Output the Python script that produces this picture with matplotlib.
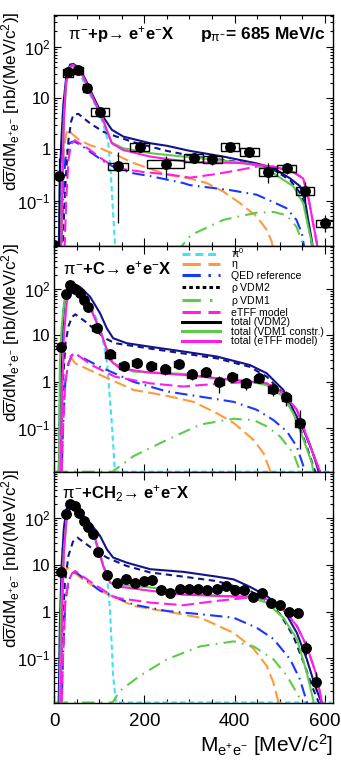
import matplotlib
matplotlib.use("Agg")
import matplotlib.pyplot as plt
from matplotlib.lines import Line2D
from matplotlib.patches import Rectangle
from matplotlib.ticker import FixedLocator, FixedFormatter, LogLocator, NullFormatter, MultipleLocator
import numpy as np

plt.rcParams["font.family"] = ["Liberation Sans", "DejaVu Sans"]
plt.rcParams["mathtext.fontset"] = "custom"
plt.rcParams["mathtext.rm"] = "Liberation Sans"
plt.rcParams["mathtext.it"] = "Liberation Sans"
plt.rcParams["mathtext.bf"] = "Liberation Sans:bold"

# ── Panel 1: pi- + p ─────────────────────────────────────────────────────────
P1_DATA_X = [1, 12, 32, 54, 72, 102, 142, 190, 247, 309, 351, 390, 433, 475, 515, 556, 600]
P1_DATA_Y = [0.0135, 0.305, 31.6, 35, 15.9, 5.4, 0.47, 1.12, 0.52, 0.69, 0.645, 1.12, 0.90, 0.366, 0.43, 0.156, 0.036]
P1_STAT_LO = [0.0135, 0.005, 29, 32, 14.5, 4.9, 0.036, 0.92, 0.27, 0.55, 0.5, 0.95, 0.74, 0.22, 0.33, 0.10, 0.024]
P1_STAT_HI = [0.0135, 0.67, 34, 38, 17.5, 6.0, 0.9, 1.35, 0.75, 0.85, 0.8, 1.3, 1.08, 0.55, 0.53, 0.23, 0.053]
P1_SYS_DX = [0, 0, 11, 10, 7, 20, 22, 21, 40, 21, 21, 20, 21, 20, 20, 21, 20]

P1_PI0_X = [10, 14, 20, 28, 39, 55, 75, 100, 112, 120, 126, 131, 137]
P1_PI0_Y = [0.005, 0.32, 6.3, 28, 42, 32, 14, 5.2, 2.5, 1.4, 0.32, 0.056, 0.008]
P1_ETA_X = [13, 17, 22, 27, 31, 40, 57, 80, 102, 140, 176, 250, 301, 338, 375, 412, 449, 471, 482, 492]
P1_ETA_Y = [0.005, 0.1, 1.0, 2.0, 2.45, 2.0, 1.5, 1.2, 1.05, 0.76, 0.54, 0.32, 0.27, 0.22, 0.15, 0.089, 0.049, 0.027, 0.016, 0.006]
P1_QED_X = [15, 20, 25, 32, 40, 46, 60, 80, 109, 139, 176, 213, 286, 301, 390, 449, 478, 515, 537, 549, 556]
P1_QED_Y = [0.005, 0.1, 0.63, 1.26, 1.4, 1.4, 1.2, 0.89, 0.59, 0.42, 0.34, 0.3, 0.22, 0.2, 0.16, 0.13, 0.1, 0.071, 0.042, 0.023, 0.01]
P1_VDM2_X = [20, 24, 28, 32, 38, 43, 54, 80, 109, 139, 183, 250, 316, 375, 449, 486, 523, 545, 556, 563, 571, 578]
P1_VDM2_Y = [0.016, 0.13, 0.5, 1.5, 3.5, 4.7, 4.9, 3.2, 2.2, 1.76, 1.32, 0.93, 0.71, 0.62, 0.5, 0.4, 0.25, 0.14, 0.079, 0.035, 0.014, 0.005]
P1_VDM1_X = [272, 301, 316, 375, 449, 486, 515, 537, 549, 556]
P1_VDM1_Y = [0.01, 0.02, 0.024, 0.042, 0.058, 0.06, 0.052, 0.031, 0.016, 0.008]
P1_ETFF_X = [22, 27, 32, 38, 46, 60, 80, 109, 139, 198, 257, 301, 350, 400, 449, 486, 530, 552, 563, 574, 582, 590]
P1_ETFF_Y = [0.005, 0.1, 0.63, 1.26, 1.5, 1.26, 0.97, 0.62, 0.43, 0.36, 0.32, 0.28, 0.32, 0.38, 0.46, 0.46, 0.36, 0.27, 0.12, 0.036, 0.015, 0.005]
P1_TOT_VDM2_X = [10, 13, 17, 21, 28, 36, 43, 57, 72, 87, 109, 128, 154, 176, 213, 250, 301, 375, 449, 486, 523, 545, 556, 563, 571, 578]
P1_TOT_VDM2_Y = [0.005, 0.32, 2.0, 7.9, 30, 45, 46, 38, 21, 10.7, 4.3, 2.4, 1.76, 1.58, 1.31, 1.17, 0.93, 0.72, 0.53, 0.43, 0.27, 0.19, 0.10, 0.042, 0.017, 0.006]
P1_TOT_VDM1_X = [15, 19, 22, 27, 35, 42, 57, 72, 87, 100, 109, 120, 128, 153, 213, 286, 375, 449, 486, 530, 552, 563, 571, 580]
P1_TOT_VDM1_Y = [0.005, 0.32, 4.0, 20, 40, 44, 35, 19, 9.5, 5.6, 3.7, 2.0, 1.35, 1.05, 0.84, 0.72, 0.6, 0.5, 0.34, 0.19, 0.089, 0.031, 0.015, 0.005]
P1_TOT_ETFF_X = [15, 19, 22, 27, 35, 42, 57, 72, 87, 100, 109, 120, 128, 153, 213, 301, 412, 486, 530, 552, 563, 574, 582, 590]
P1_TOT_ETFF_Y = [0.005, 0.32, 4.0, 20, 40, 44, 35, 19, 9.5, 5.6, 3.7, 2.0, 1.31, 0.97, 0.72, 0.56, 0.54, 0.46, 0.36, 0.27, 0.12, 0.036, 0.015, 0.005]

# ── Panel 2: pi- + C ─────────────────────────────────────────────────────────
P2_DATA_X = [16, 27, 35, 47, 58, 67, 76, 95, 124, 155, 183, 215, 246, 276, 305, 336, 366, 395, 425, 453, 484, 514, 544]
P2_DATA_Y = [5.7, 77, 122, 98, 84, 58, 40, 14.8, 3.9, 2.2, 2.6, 2.2, 1.86, 2.4, 1.45, 1.6, 1.0, 1.26, 0.93, 1.19, 0.69, 0.46, 0.128]
P2_STAT_LO = [5.0, 72, 115, 92, 79, 54, 37, 13.8, 3.1, 1.7, 2.2, 1.8, 1.4, 2.0, 1.1, 1.3, 0.57, 1.0, 0.66, 0.95, 0.5, 0.3, 0.035]
P2_STAT_HI = [6.4, 82, 129, 104, 89, 62, 43, 15.8, 4.8, 2.7, 3.0, 2.6, 2.4, 2.8, 1.8, 1.9, 1.35, 1.5, 1.15, 1.45, 0.9, 0.62, 0.25]
P2_SYS_DX = [0, 0, 0, 0, 0, 0, 0, 10, 11, 10, 10, 10, 10, 10, 10, 10, 10, 10, 10, 10, 10, 10, 10]

P2_PI0_X = [10, 13, 17, 22, 28, 35, 46, 58, 80, 102, 117, 128, 135, 615]
P2_PI0_Y = [0.005, 0.5, 10, 50, 100, 120, 112, 89, 45, 15.5, 2.95, 0.13, 0.0116, 0.0116]
P2_ETA_X = [12, 15, 19, 24, 30, 47, 102, 176, 250, 309, 361, 398, 442, 464, 479, 488]
P2_ETA_Y = [0.005, 0.32, 2.0, 4.0, 4.3, 2.5, 1.41, 0.67, 0.5, 0.37, 0.21, 0.13, 0.056, 0.029, 0.012, 0.005]
P2_QED_X = [16, 20, 25, 32, 40, 47, 102, 176, 250, 324, 398, 449, 486, 516, 538, 556, 565]
P2_QED_Y = [0.005, 0.1, 1.0, 2.5, 3.8, 4.0, 2.1, 1.0, 0.62, 0.48, 0.37, 0.25, 0.15, 0.085, 0.04, 0.012, 0.005]
P2_VDM2_X = [12, 16, 20, 25, 32, 40, 47, 69, 91, 113, 135, 213, 361, 434, 471, 508, 538, 560, 578, 588]
P2_VDM2_Y = [0.005, 0.1, 1.0, 6.3, 15.8, 25, 28.5, 20, 13.2, 8.7, 6.8, 5.2, 3.2, 2.1, 1.29, 0.56, 0.15, 0.04, 0.012, 0.005]
P2_VDM1_X = [3, 130, 134, 176, 250, 324, 398, 442, 471, 501, 530, 545, 552]
P2_VDM1_Y = [0.0116, 0.0116, 0.0125, 0.025, 0.056, 0.12, 0.16, 0.15, 0.11, 0.066, 0.029, 0.012, 0.005]
P2_ETFF_X = [16, 20, 25, 32, 40, 47, 83, 135, 213, 287, 324, 398, 434, 471, 508, 538, 560, 578, 589, 598]
P2_ETFF_Y = [0.005, 0.1, 1.0, 2.5, 3.8, 4.1, 2.3, 1.29, 0.93, 0.79, 0.85, 0.95, 1.0, 0.93, 0.56, 0.25, 0.066, 0.022, 0.012, 0.005]
P2_TOT_VDM2_X = [10, 13, 17, 22, 28, 35, 46, 58, 80, 102, 117, 131, 161, 213, 287, 361, 434, 471, 508, 530, 553, 571, 586, 595]
P2_TOT_VDM2_Y = [0.005, 0.32, 6.3, 40, 89, 132, 126, 110, 68, 30, 14.2, 8.7, 6.8, 5.7, 4.5, 3.5, 2.3, 1.53, 0.67, 0.25, 0.091, 0.034, 0.012, 0.005]
P2_TOT_VDM1_X = [11, 13, 17, 22, 28, 35, 46, 58, 80, 102, 117, 131, 176, 287, 361, 434, 471, 508, 530, 553, 571, 580]
P2_TOT_VDM1_Y = [0.005, 2.5, 15, 45, 80, 97, 100, 79, 40, 13.1, 4.9, 2.5, 1.66, 1.48, 1.19, 1.01, 0.85, 0.48, 0.21, 0.056, 0.018, 0.006]
P2_TOT_ETFF_X = [14, 18, 22, 28, 35, 46, 58, 80, 102, 117, 124, 146, 213, 287, 361, 434, 471, 508, 538, 560, 578, 589, 598]
P2_TOT_ETFF_Y = [0.005, 0.5, 10, 50, 95, 100, 79, 40, 13.1, 4.9, 2.95, 1.95, 1.58, 1.41, 1.19, 1.01, 0.93, 0.56, 0.25, 0.066, 0.022, 0.012, 0.005]

# ── Panel 3: pi- + CH2 ───────────────────────────────────────────────────────
P3_DATA_X = [16, 26, 35, 47, 56, 67, 76, 87, 98, 118, 139, 159, 179, 199, 218, 238, 258, 279, 299,
             319, 339, 360, 380, 400, 420, 440, 460, 480, 500, 520, 541, 559, 580]
P3_DATA_Y = [7.1, 122, 200, 183, 128, 88, 66, 45, 19, 6.0, 4.2, 5.1, 4.2, 4.5, 4.8, 2.9, 2.55, 3.0, 3.1,
             3.0, 2.9, 3.0, 3.55, 2.9, 2.9, 2.1, 2.5, 1.56, 1.37, 1.0, 0.92, 0.17, 0.031]
P3_STAT_LO = [6.7, 116, 190, 174, 122, 84, 63, 43, 18, 5.6, 3.9, 4.8, 3.9, 4.2, 4.5, 2.7, 2.35, 2.8, 2.9,
              2.8, 2.7, 2.8, 3.3, 2.7, 2.7, 1.95, 2.3, 1.42, 1.24, 0.88, 0.8, 0.12, 0.021]
P3_STAT_HI = [7.5, 128, 210, 192, 134, 92, 69, 47, 20, 6.4, 4.5, 5.4, 4.5, 4.8, 5.1, 3.1, 2.75, 3.2, 3.3,
              3.2, 3.1, 3.2, 3.8, 3.1, 3.1, 2.25, 2.7, 1.7, 1.5, 1.12, 1.05, 0.24, 0.05]

P3_PI0_X = [10, 13, 17, 22, 28, 35, 46, 60, 80, 102, 117, 124, 131, 137, 615]
P3_PI0_Y = [0.005, 0.5, 10, 63, 158, 200, 178, 126, 60, 17, 6.3, 1.12, 0.042, 0.0113, 0.0113]
P3_ETA_X = [12, 15, 19, 24, 30, 58, 102, 176, 250, 324, 398, 442, 471, 486, 497, 502]
P3_ETA_Y = [0.005, 0.25, 2.5, 7.1, 8.8, 5.4, 2.8, 1.32, 1.0, 0.74, 0.35, 0.16, 0.069, 0.03, 0.0115, 0.005]
P3_QED_X = [16, 20, 25, 32, 40, 47, 102, 176, 250, 324, 398, 449, 486, 523, 545, 560, 566]
P3_QED_Y = [0.005, 0.1, 1.6, 4.5, 6.6, 7.1, 2.8, 1.41, 1.03, 0.88, 0.74, 0.45, 0.26, 0.095, 0.035, 0.0115, 0.005]
P3_VDM2_X = [11, 14, 18, 24, 32, 42, 52, 87, 117, 161, 213, 287, 361, 434, 471, 501, 530, 553, 571, 586, 595]
P3_VDM2_Y = [0.005, 0.032, 0.32, 4.0, 15.8, 31.6, 38.5, 21.7, 14.4, 9.5, 6.9, 5.6, 4.5, 2.8, 1.69, 0.88, 0.3, 0.081, 0.026, 0.0115, 0.005]
P3_VDM1_X = [3, 126, 130, 146, 190, 250, 324, 398, 442, 486, 516, 538, 549, 555]
P3_VDM1_Y = [0.0113, 0.0113, 0.0115, 0.02, 0.042, 0.095, 0.18, 0.23, 0.18, 0.095, 0.042, 0.018, 0.0115, 0.005]
P3_ETFF_X = [16, 20, 25, 32, 40, 47, 83, 135, 213, 287, 361, 412, 434, 471, 508, 538, 560, 582, 593, 600]
P3_ETFF_Y = [0.005, 0.1, 1.6, 4.5, 6.6, 7.4, 4.2, 2.0, 1.56, 1.37, 1.7, 1.9, 2.0, 1.84, 1.12, 0.49, 0.18, 0.042, 0.0115, 0.005]
P3_TOT_VDM2_X = [10, 13, 17, 22, 28, 38, 58, 80, 102, 117, 131, 161, 213, 287, 361, 398, 434, 471, 508, 538, 560, 578, 593, 600]
P3_TOT_VDM2_Y = [0.005, 0.5, 10, 63, 158, 229, 132, 79, 42, 21.7, 14.4, 11.2, 8.1, 7.1, 5.6, 4.9, 3.4, 2.17, 1.12, 0.35, 0.095, 0.026, 0.011, 0.005]
P3_TOT_VDM1_X = [12, 16, 22, 28, 38, 50, 70, 90, 109, 124, 131, 213, 287, 361, 434, 471, 508, 538, 560, 574, 582]
P3_TOT_VDM1_Y = [0.005, 1.5, 20, 100, 190, 158, 89, 40, 9.5, 4.2, 3.85, 3.3, 2.6, 2.17, 2.0, 1.56, 0.74, 0.26, 0.049, 0.013, 0.005]
P3_TOT_ETFF_X = [14, 18, 22, 28, 38, 50, 70, 90, 109, 124, 146, 213, 287, 361, 434, 471, 508, 538, 560, 582, 593, 600]
P3_TOT_ETFF_Y = [0.005, 1.0, 20, 100, 190, 158, 89, 40, 9.5, 4.2, 3.4, 2.8, 2.3, 2.17, 2.1, 1.84, 1.12, 0.49, 0.18, 0.042, 0.0115, 0.005]

# ── Axis ranges ──────────────────────────────────────────────────────────────
X_RANGE = (0, 618)
Y_RANGES = [(0.013, 415), (0.0114, 845), (0.011, 980)]

Y_TICKS = [0.1, 1, 10, 100]
Y_TICK_LABELS = [r"$10^{-1}$", "1", "10", r"$10^{2}$"]
X_TICKS = [0, 200, 400, 600]

# ── Styles ───────────────────────────────────────────────────────────────────
NAVY = "#13138a"
CYAN = "#3fe3f2"
ORANGE = "#ff9a3c"
BLUE = "#1838ff"
GREEN = "#5ccc48"
MAGENTA = "#ff1ee6"

COMPONENTS = [
    # key, plot colour, plot dashes, legend label, legend colour, legend dashes
    ("pi0", CYAN, (0, (2.6, 1.6)), r"$\pi^{0}$", CYAN, (0, (2.6, 1.6))),
    ("eta", ORANGE, (0, (6, 2.5)), r"$\eta$", ORANGE, (0, (6, 2.5))),
    ("qed", BLUE, (0, (6, 2.5, 0.8, 2.5)), "QED reference", BLUE, (0, (6, 2.5, 0.8, 2.5))),
    ("vdm2", NAVY, (0, (3, 2.2)), r"$\rho$ VDM2", "black", (0, (1.2, 1.0))),
    ("vdm1", GREEN, (0, (6, 3, 0.8, 3)), r"$\rho$ VDM1", GREEN, (0, (6, 3, 0.8, 3))),
    ("etff", MAGENTA, (0, (6, 2.5)), "eTFF model", MAGENTA, (0, (6, 2.5))),
    ("tot_vdm2", NAVY, "-", "total (VDM2)", "black", "-"),
    ("tot_vdm1", GREEN, "-", "total (VDM1 constr.)", GREEN, "-"),
    ("tot_etff", MAGENTA, "-", "total (eTFF model)", MAGENTA, "-"),
]

YLABEL = r"d$\overline{\sigma}$/dM$_{\mathrm{e^{+}e^{-}}}$ [nb/(MeV/c$^{2}$)]"


def panel_curves(prefix):
    g = globals()
    names = {"pi0": "PI0", "eta": "ETA", "qed": "QED", "vdm2": "VDM2", "vdm1": "VDM1",
             "etff": "ETFF", "tot_vdm2": "TOT_VDM2", "tot_vdm1": "TOT_VDM1", "tot_etff": "TOT_ETFF"}
    return {k: (g[f"{prefix}_{v}_X"], g[f"{prefix}_{v}_Y"]) for k, v in names.items()}


def style_axis(ax, ylim, show_xlabels):
    ax.set_yscale("log")
    ax.set_xlim(*X_RANGE)
    ax.set_ylim(*ylim)
    ax.yaxis.set_major_locator(FixedLocator(Y_TICKS))
    ax.yaxis.set_major_formatter(FixedFormatter(Y_TICK_LABELS))
    ax.yaxis.set_minor_locator(LogLocator(base=10, subs=np.arange(2, 10)))
    ax.yaxis.set_minor_formatter(NullFormatter())
    ax.xaxis.set_major_locator(FixedLocator(X_TICKS))
    ax.xaxis.set_minor_locator(MultipleLocator(50))
    ax.tick_params(which="both", direction="in", top=True, right=True)
    ax.tick_params(axis="y", which="major", length=5, width=0.8, labelsize=12, pad=2.5)
    ax.tick_params(axis="y", which="minor", length=2.5, width=0.8)
    ax.tick_params(axis="x", which="major", length=6, width=0.8, pad=7, labelsize=13.5)
    ax.tick_params(axis="x", which="minor", length=3, width=0.8)
    if not show_xlabels:
        ax.tick_params(axis="x", labelbottom=False)
    for sp in ax.spines.values():
        sp.set_linewidth(1.0)
    ax.set_ylabel(YLABEL, fontsize=12.3, loc="top")
    ax.yaxis.set_label_coords(-0.116, 1.013)


def draw_panel(ax, curves, dx, dy, lo, hi, sys_dx, sys_rel):
    for key, col, ls, _, _, _ in COMPONENTS:
        x, y = curves[key]
        ax.plot(x, y, color=col, linestyle=ls, linewidth=1.5, zorder=2)

    dy = np.asarray(dy, float)
    yerr = [dy - np.asarray(lo), np.asarray(hi) - dy]
    if sys_dx is not None:
        for xi, yi, w in zip(dx, dy, sys_dx):
            if w <= 0:
                continue
            ax.add_patch(Rectangle((xi - w, yi * (1 - sys_rel)), 2 * w, yi * 2 * sys_rel,
                                   fill=False, edgecolor="black", linewidth=1.0, zorder=4))
    ax.errorbar(dx, dy, yerr=yerr, fmt="o", color="black", markersize=6.8,
                elinewidth=0.9, capsize=0, zorder=5)


def main():
    fig = plt.figure(figsize=(3.41, 7.82), dpi=100)
    left, width = 54 / 341, 279 / 341
    boxes = [(15, 246), (246, 472), (472, 703)]
    axes = []
    for top, bot in boxes:
        axes.append(fig.add_axes([left, 1 - bot / 782, width, (bot - top) / 782]))

    setups = [
        ("P1", P1_DATA_X, P1_DATA_Y, P1_STAT_LO, P1_STAT_HI, P1_SYS_DX, 0.17),
        ("P2", P2_DATA_X, P2_DATA_Y, P2_STAT_LO, P2_STAT_HI, P2_SYS_DX, 0.15),
        ("P3", P3_DATA_X, P3_DATA_Y, P3_STAT_LO, P3_STAT_HI, None, 0.0),
    ]
    for i, (ax, (prefix, dx, dy, lo, hi, sdx, srel)) in enumerate(zip(axes, setups)):
        draw_panel(ax, panel_curves(prefix), dx, dy, lo, hi, sdx, srel)
        style_axis(ax, Y_RANGES[i], show_xlabels=(i == 2))

    # reaction labels (arrow as a plain glyph keeps the spacing tight)
    axes[0].text(0.05, 0.896, r"$\pi^{-}$+p→ e$^{+}$e$^{-}$X", transform=axes[0].transAxes,
                 fontsize=12, fontweight="bold", va="baseline")
    axes[0].text(0.523, 0.896, r"p$_{\pi^{-}}$= 685 MeV/c", transform=axes[0].transAxes,
                 fontsize=12.5, fontweight="bold", va="baseline")
    axes[1].text(0.032, 0.876, r"$\pi^{-}$+C→ e$^{+}$e$^{-}$X", transform=axes[1].transAxes,
                 fontsize=12, fontweight="bold", va="baseline")
    axes[2].text(0.03, 0.887, r"$\pi^{-}$+CH$_{2}$→ e$^{+}$e$^{-}$X", transform=axes[2].transAxes,
                 fontsize=12, fontweight="bold", va="baseline")

    axes[2].set_xlabel(r"M$_{\mathrm{e^{+}e^{-}}}$ [MeV/c$^{2}$]", fontsize=15, loc="right", labelpad=2)

    handles = [Line2D([], [], color=lc, linestyle=lls, linewidth=2.2)
               for _, _, _, _, lc, lls in COMPONENTS]
    labels = [c[3] for c in COMPONENTS]
    fig.legend(handles, labels, loc="upper left", bbox_to_anchor=(182 / 341, 1 - 246 / 782),
               frameon=False, fontsize=7.6, handlelength=3.6, handletextpad=1.0,
               labelspacing=-0.04, borderpad=0.0, borderaxespad=0.0)

    fig.savefig("out.png", dpi=100)
    plt.close(fig)


if __name__ == "__main__":
    main()
